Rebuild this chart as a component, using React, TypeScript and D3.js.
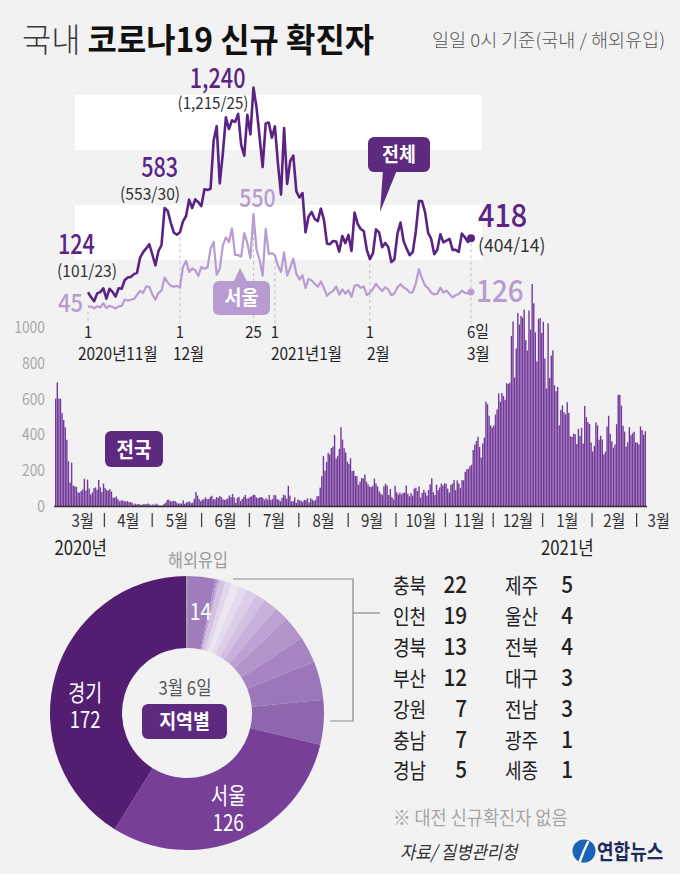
import React from "react";
import * as d3 from "d3";

const W = 680;
const H = 874;
const FONT = "'Noto Sans CJK KR', 'Noto Sans', sans-serif";

// ---- National daily new cases (0시 기준), Mar 1 2020 .. Mar 6 2021 ----
const nat2020Mar = [600, 690, 600, 600, 520, 480, 440, 370, 250, 131, 242, 114, 110, 107, 76, 74, 84, 93, 152, 87, 147, 98, 64, 76, 100, 104, 91, 146, 105, 78, 125];
const nat2020Apr = [101, 89, 86, 94, 81, 47, 47, 53, 39, 27, 30, 32, 25, 27, 27, 22, 22, 18, 8, 13, 9, 11, 8, 6, 10, 10, 10, 14, 9, 4];
const nat2020May = [9, 6, 13, 8, 3, 2, 4, 12, 18, 34, 35, 27, 26, 29, 27, 19, 13, 15, 13, 32, 12, 20, 23, 25, 16, 19, 40, 79, 58, 39, 27];
const nat2020Jun = [35, 38, 49, 39, 39, 51, 57, 38, 38, 50, 45, 56, 49, 37, 34, 37, 43, 59, 49, 67, 48, 17, 46, 51, 28, 39, 51, 62, 42, 43];
const nat2020Jul = [51, 54, 63, 61, 48, 44, 48, 50, 45, 35, 44, 35, 62, 33, 39, 61, 60, 39, 34, 26, 45, 63, 59, 41, 113, 58, 25, 28, 48, 18, 36];
const nat2020Aug = [31, 30, 23, 34, 33, 43, 20, 43, 36, 28, 34, 54, 56, 103, 166, 279, 197, 246, 297, 288, 324, 332, 397, 266, 280, 320, 441, 371, 323, 299, 248];
const nat2020Sep = [235, 267, 195, 198, 168, 167, 119, 136, 156, 155, 176, 136, 121, 109, 106, 113, 153, 126, 110, 82, 70, 61, 110, 125, 114, 61, 95, 50, 38, 113];
const nat2020Oct = [77, 63, 75, 64, 73, 75, 114, 69, 54, 72, 58, 97, 102, 84, 110, 47, 73, 91, 76, 58, 89, 121, 155, 77, 61, 119, 88, 103, 125, 114, 127];
const nat2020Nov = [124, 97, 75, 118, 125, 145, 89, 143, 126, 100, 146, 143, 191, 205, 208, 223, 230, 313, 343, 363, 386, 330, 271, 349, 382, 583, 569, 504, 450, 438];
const nat2020Dec = [451, 511, 540, 629, 583, 631, 615, 594, 686, 682, 689, 950, 1030, 718, 880, 1078, 1014, 1062, 1053, 1097, 926, 869, 1092, 985, 1240, 1132, 970, 807, 1045, 1050, 967];
const nat2021Jan = [1029, 824, 657, 1020, 715, 840, 869, 674, 641, 665, 451, 537, 562, 524, 512, 580, 520, 389, 386, 404, 401, 346, 431, 392, 437, 349, 559, 497, 469, 458, 355];
const nat2021Feb = [305, 336, 467, 451, 370, 393, 371, 289, 303, 444, 504, 403, 362, 326, 344, 457, 621, 621, 561, 448, 416, 332, 356, 440, 396, 406, 415, 355];
const nat2021Mar = [355, 344, 444, 424, 398, 418];

// ---- Seoul daily new cases, Nov 1 2020 .. Mar 6 2021 ----
const seoul2020Nov = [45, 46, 36, 48, 41, 63, 38, 51, 44, 35, 47, 50, 85, 79, 83, 88, 109, 132, 121, 156, 154, 112, 83, 121, 133, 204, 178, 159, 155, 159];
const seoul2020Dec = [150, 262, 295, 235, 254, 244, 213, 262, 252, 259, 362, 399, 219, 251, 378, 423, 398, 473, 328, 327, 318, 447, 393, 310, 550, 357, 300, 214, 470, 333, 337];
const seoul2021Jan = [325, 268, 236, 341, 215, 257, 308, 225, 193, 217, 147, 197, 188, 171, 154, 183, 147, 105, 121, 132, 156, 111, 140, 116, 135, 98, 159, 165, 148, 156, 108];
const seoul2021Feb = [122, 142, 170, 149, 131, 152, 139, 108, 117, 152, 168, 150, 142, 122, 125, 173, 250, 200, 161, 146, 122, 112, 116, 149, 122, 133, 114, 96];
const seoul2021Mar = [109, 114, 133, 121, 118, 126];

// ---- Annotations (total, domestic / overseas) ----
const callouts = [
  { date: "2020-11-01", total: "124", split: "(101/23)" },
  { date: "2020-11-26", total: "583", split: "(553/30)" },
  { date: "2020-12-25", total: "1,240", split: "(1,215/25)" },
  { date: "2021-03-06", total: "418", split: "(404/14)" },
];

// ---- Regional breakdown, Mar 6 ----
const overseasCount = 14;
const regionNames = ["충북", "인천", "경북", "부산", "강원", "충남", "경남", "제주", "울산", "전북", "대구", "전남", "광주", "세종"];
const regionValues = [22, 19, 13, 12, 7, 7, 5, 5, 4, 4, 3, 3, 1, 1];
const seoulCount = 126;
const gyeonggiCount = 172;

const yTicksBar = [0, 200, 400, 600, 800, 1000];

const DARK = "#5a2384";
const LIGHT = "#b89cd1";
const BAR = "#733a9b";
const BUBBLE = "#5d2a80";

const pieColors = [
  "#9f7dbd", "#b091c9", "#c2a9d6", "#d3c2e2", "#e2d6ec", "#ece5f2", "#e5dbee", "#dccde8",
  "#d2bfe2", "#c7b0da", "#bca2d2", "#b293ca", "#a785c2", "#9b76b8", "#8e66ad", "#773f98", "#531e72",
];

function T(props: any) {
  const { x, y, s = 0.88, anchor = "start", size = 15, fill = "#222", weight = 400, italic = false, children } = props;
  return (
    <text
      transform={`translate(${x},${y}) scale(${s},1)`}
      textAnchor={anchor}
      fontSize={size}
      fill={fill}
      fontWeight={weight}
      fontStyle={italic ? "italic" : "normal"}
      fontFamily={FONT}
    >
      {children}
    </text>
  );
}

const parseD = d3.timeParse("%Y-%m-%d");

export default function App() {
  const national = [
    ...nat2020Mar, ...nat2020Apr, ...nat2020May, ...nat2020Jun, ...nat2020Jul, ...nat2020Aug,
    ...nat2020Sep, ...nat2020Oct, ...nat2020Nov, ...nat2020Dec, ...nat2021Jan, ...nat2021Feb, ...nat2021Mar,
  ];
  const seoul = [...seoul2020Nov, ...seoul2020Dec, ...seoul2021Jan, ...seoul2021Feb, ...seoul2021Mar];
  const barStart = new Date(2020, 2, 1);
  const dates = national.map((_, i) => d3.timeDay.offset(barStart, i));

  // ---------- top line chart ----------
  const topStart = new Date(2020, 10, 1);
  const topEnd = new Date(2021, 2, 6);
  const startIdx = d3.timeDay.count(barStart, topStart);
  const totalPts: [Date, number][] = national.slice(startIdx).map((v, i) => [d3.timeDay.offset(topStart, i), v]);
  const seoulPts: [Date, number][] = seoul.map((v, i) => [d3.timeDay.offset(topStart, i), v]);
  const xTop = d3.scaleTime().domain([topStart, topEnd]).range([88, 471]);
  const yTop = d3.scaleLinear().domain([0, 1200]).range([315, 95]);
  const line = d3.line<[Date, number]>().x((d) => xTop(d[0])).y((d) => yTop(d[1]));
  const valAt = (arr: [Date, number][], d: Date) => arr[d3.timeDay.count(topStart, d)][1];

  const topTicks = [
    { date: new Date(2020, 10, 1), top: "1", bottom: "2020년11월", anchor: "seoul", bdx: -10 },
    { date: new Date(2020, 11, 1), top: "1", bottom: "12월", anchor: "total", bdx: -7 },
    { date: new Date(2020, 11, 25), top: "25", bottom: "", anchor: "seoul", bdx: 0 },
    { date: new Date(2021, 0, 1), top: "1", bottom: "2021년1월", anchor: "seoul", bdx: -4 },
    { date: new Date(2021, 1, 1), top: "1", bottom: "2월", anchor: "total", bdx: -3 },
    { date: new Date(2021, 2, 6), top: "6일", bottom: "3월", anchor: "total", bdx: -4 },
  ];

  // ---------- bar chart ----------
  const n = national.length;
  const xBar = d3.scaleBand<number>().domain(d3.range(n)).range([55, 646]).paddingInner(0.12);
  const yBar = d3.scaleLinear().domain([0, 1000]).range([506, 327]);
  const step = xBar.step();
  const monthStarts = d3.timeMonth.range(new Date(2020, 3, 1), new Date(2021, 2, 2));
  const sepX = monthStarts.map((d) => 55 + d3.timeDay.count(barStart, d) * step);
  const monthLabels = [barStart, ...monthStarts].map((d, i) => {
    let cx;
    if (i === 0) cx = (55 + sepX[0]) / 2 + 3;
    else if (i === monthStarts.length) cx = sepX[i - 1] + 22;
    else cx = (sepX[i - 1] + sepX[i]) / 2;
    return { label: `${d.getMonth() + 1}월`, cx, date: d };
  });

  // ---------- donut ----------
  const cx = 187;
  const cy = 713;
  const rOuter = 137;
  const rInner = 65;
  const pieData = [
    { name: "해외유입", value: overseasCount },
    ...regionNames.map((nm, i) => ({ name: nm, value: regionValues[i] })).reverse(),
    { name: "서울", value: seoulCount },
    { name: "경기", value: gyeonggiCount },
  ];
  const arcs = d3.pie<any>().sort(null).value((d) => d.value)(pieData);
  const arcGen = d3.arc<any>().innerRadius(rInner).outerRadius(rOuter);
  const labelArc = d3.arc<any>().innerRadius(101).outerRadius(101);
  const arcByName = (nm: string) => arcs.find((a) => a.data.name === nm)!;
  const c14 = labelArc.centroid(arcByName("해외유입"));
  const cSeoul = d3.arc<any>().innerRadius(108).outerRadius(108).centroid(arcByName("서울"));
  const cGg = d3.arc<any>().innerRadius(108).outerRadius(108).centroid(arcByName("경기"));

  const rowY = (i: number) => 593 + i * 30.9;

  const NUM_W = 500;

  return (
    <svg
      width={W}
      height={H}
      viewBox={`0 0 ${W} ${H}`}
      style={{ position: "fixed", left: 0, top: 0 }}
      fontFamily={FONT}
    >
      <rect x={0} y={0} width={W} height={H} fill="#f2f2f2" />

      {/* Title */}
      <text x={22} y={52} fontSize={33} fontFamily={FONT} textLength={352} lengthAdjust="spacingAndGlyphs">
        <tspan fill="#3a3a3a" fontWeight={300}>국내 </tspan>
        <tspan fill="#111" fontWeight={700}>코로나19 신규 확진자</tspan>
      </text>
      <text x={432} y={47} fontSize={18} fill="#555" fontWeight={300} fontFamily={FONT} textLength={233} lengthAdjust="spacingAndGlyphs">
        일일 0시 기준(국내 / 해외유입)
      </text>

      {/* ---------- top line chart ---------- */}
      {[[900, 1200], [300, 600]].map(([a, b]) => (
        <rect key={a} x={75} width={407} y={yTop(b)} height={yTop(a) - yTop(b)} fill="#ffffff" />
      ))}

      {topTicks.map((t) => {
        const x = xTop(t.date);
        const v = t.anchor === "seoul" ? valAt(seoulPts, t.date) : valAt(totalPts, t.date);
        return (
          <g key={t.date.toISOString()}>
            <line x1={x} x2={x} y1={yTop(v) + 5} y2={323} stroke="#bdbdbd" strokeWidth={1} strokeDasharray="3,3" />
            <T x={t.top === "6일" ? x - 4 : x} y={338} anchor={t.top === "6일" ? "start" : "middle"} size={16.5} fill="#222" s={0.9}>
              {t.top}
            </T>
            {t.bottom && (
              <T x={x + t.bdx} y={360} size={17.5} fill="#222" s={0.88}>
                {t.bottom}
              </T>
            )}
          </g>
        );
      })}

      <path d={line(seoulPts)!} fill="none" stroke={LIGHT} strokeWidth={2.2} strokeLinejoin="round" />
      <path d={line(totalPts)!} fill="none" stroke={DARK} strokeWidth={2.6} strokeLinejoin="round" />
      <circle cx={xTop(topEnd)} cy={yTop(seoulPts[seoulPts.length - 1][1])} r={3.5} fill={LIGHT} />
      <circle cx={xTop(topEnd)} cy={yTop(totalPts[totalPts.length - 1][1])} r={4} fill={DARK} />

      {/* callouts */}
      {(() => {
        const [c0, c1, c2, c3] = callouts.map((c) => ({ ...c, d: parseD(c.date)! }));
        const p0 = [xTop(c0.d), yTop(valAt(totalPts, c0.d))];
        const p1 = [xTop(c1.d), yTop(valAt(totalPts, c1.d))];
        const p2 = [xTop(c2.d), yTop(valAt(totalPts, c2.d))];
        const p3 = [xTop(c3.d), yTop(valAt(totalPts, c3.d))];
        return (
          <g>
            <T x={p0[0] - 30} y={p0[1] - 38} size={27} weight={NUM_W} fill={DARK} s={0.8}>{c0.total}</T>
            <T x={p0[0] - 31} y={p0[1] - 15} size={17} fill="#333" s={0.92}>{c0.split}</T>
            <T x={p1[0] + 13.5} y={p1[1] - 31} anchor="end" size={27} weight={NUM_W} fill={DARK} s={0.8}>{c1.total}</T>
            <T x={p1[0] + 15.5} y={p1[1] - 8} anchor="end" size={17} fill="#333" s={0.92}>{c1.split}</T>
            <T x={p2[0] - 8} y={p2[1]} anchor="end" size={27} weight={NUM_W} fill={DARK} s={0.8}>{c2.total}</T>
            <T x={p2[0] - 5} y={p2[1] + 21} anchor="end" size={16.5} fill="#333" s={0.92}>{c2.split}</T>
            <T x={p3[0] + 7} y={p3[1] - 11} size={32} weight={NUM_W} fill={DARK} s={0.9}>{c3.total}</T>
            <T x={p3[0] + 7} y={p3[1] + 14} size={18.5} fill="#333" s={0.95}>{c3.split}</T>
          </g>
        );
      })()}
      {/* Seoul value labels */}
      <T x={xTop(topStart) - 5} y={yTop(seoulPts[0][1]) + 5} anchor="end" size={25} weight={NUM_W} fill={LIGHT} s={0.88}>
        {String(seoulPts[0][1])}
      </T>
      <T x={xTop(new Date(2020, 11, 25)) + 4} y={yTop(550) - 7} anchor="middle" size={25} weight={NUM_W} fill={LIGHT} s={0.85}>
        {String(valAt(seoulPts, new Date(2020, 11, 25)))}
      </T>
      <T x={xTop(topEnd) + 5} y={yTop(seoulPts[seoulPts.length - 1][1]) + 10} size={31} weight={NUM_W} fill={LIGHT} s={0.9}>
        {String(seoulPts[seoulPts.length - 1][1])}
      </T>

      {/* bubbles */}
      <g>
        <rect x={368} y={137} width={62} height={35} rx={6} fill={BUBBLE} />
        <path d="M383,170 L397,170 L380,212 Z" fill={BUBBLE} />
        <T x={399} y={162} anchor="middle" size={20} weight={700} fill="#fff" s={0.92}>전체</T>
      </g>
      <g>
        <rect x={213} y={281} width={57} height={34} rx={6} fill={LIGHT} />
        <path d="M233,283 L248,283 L240,268 Z" fill={LIGHT} />
        <T x={241.5} y={305} anchor="middle" size={20} weight={700} fill="#fff" s={0.92}>서울</T>
      </g>

      {/* ---------- bar chart ---------- */}
      {yTicksBar.map((t) => (
        <T key={t} x={45} y={yBar(t) + 6} anchor="end" size={16.5} fill="#a8a8a8" s={0.84}>
          {String(t)}
        </T>
      ))}
      {national.map((v, i) => (
        <rect key={i} x={xBar(i)} y={yBar(v)} width={xBar.bandwidth()} height={506 - yBar(v)} fill={BAR} />
      ))}
      <line x1={54} x2={647} y1={506.5} y2={506.5} stroke="#333" strokeWidth={1.5} />
      {sepX.map((x, i) => (
        <line key={i} x1={x} x2={x} y1={513} y2={527} stroke="#444" strokeWidth={1.3} />
      ))}
      {monthLabels.map((m, i) => (
        <T key={i} x={m.cx} y={527} anchor="middle" size={17.5} fill="#333" s={0.86}>
          {m.label}
        </T>
      ))}
      <T x={monthLabels[0].cx - 2} y={555} anchor="middle" size={19.5} fill="#222" s={0.86}>
        {`${dates[0].getFullYear()}년`}
      </T>
      <T x={monthLabels[10].cx} y={555} anchor="middle" size={19.5} fill="#222" s={0.86}>
        {`${monthLabels[10].date.getFullYear()}년`}
      </T>
      <g>
        <rect x={105} y={431} width={58} height={36} rx={6} fill={BUBBLE} />
        <T x={134} y={457} anchor="middle" size={21} weight={700} fill="#fff" s={0.9}>전국</T>
      </g>

      {/* ---------- donut ---------- */}
      <g transform={`translate(${cx},${cy})`}>
        {arcs.map((a, i) => (
          <path key={i} d={arcGen(a)!} fill={pieColors[i]} />
        ))}
        <line x1={0} x2={0} y1={-rInner} y2={-rOuter} stroke="#a0a0a0" strokeWidth={2} />
        <T x={c14[0] + 3} y={c14[1] + 7} anchor="middle" size={23} fill="#fff" s={0.85}>
          {String(overseasCount)}
        </T>
        <T x={cSeoul[0]} y={cSeoul[1] - 9} anchor="middle" size={23} fill="#fff" s={0.82}>
          <tspan x={0} dy={0}>서울</tspan>
          <tspan x={0} dy={27}>{String(seoulCount)}</tspan>
        </T>
        <T x={cGg[0] + 2} y={cGg[1] + 18} anchor="middle" size={23} fill="#fff" s={0.8}>
          <tspan x={0} dy={0}>경기</tspan>
          <tspan x={0} dy={27}>{String(gyeonggiCount)}</tspan>
        </T>
        <T x={-2} y={-18} anchor="middle" size={19} fill="#555" s={0.88}>3월 6일</T>
        <rect x={-45} y={-9} width={85} height={35} rx={6} fill={BUBBLE} />
        <T x={-2.5} y={16} anchor="middle" size={20} weight={700} fill="#fff" s={0.92}>지역별</T>
      </g>
      <T x={198} y={567} anchor="middle" size={18.5} fill="#9a9a9a" s={0.88}>해외유입</T>

      {/* bracket */}
      <path d="M233,579 H353 V721 H330" fill="none" stroke="#8a8a8a" strokeWidth={1.2} />
      <line x1={353} x2={380} y1={613} y2={613} stroke="#8a8a8a" strokeWidth={1.2} />

      {/* table */}
      {regionNames.map((nm, i) => {
        const col = i < 7 ? 0 : 1;
        const row = i % 7;
        const nx = col === 0 ? 393 : 505;
        const vx = col === 0 ? 467 : 573;
        return (
          <g key={nm}>
            <T x={nx} y={rowY(row)} size={21} fill="#222" s={0.86}>{nm}</T>
            <T x={vx} y={rowY(row)} anchor="end" size={23} weight={500} fill="#222" s={0.9}>{String(regionValues[i])}</T>
          </g>
        );
      })}
      <T x={393} y={825} size={19.5} fill="#a5a5a5" s={0.9}>※ 대전 신규확진자 없음</T>
      <T x={400} y={859} size={18.5} fill="#333" italic s={0.9}>자료/ 질병관리청</T>

      {/* logo */}
      <g>
        <circle cx={584} cy={851} r={11.5} fill="#1a63b8" />
        <path d="M588,842 Q583,852 580,861" fill="none" stroke="#fff" strokeWidth={2.4} strokeLinecap="round" />
        <T x={597} y={859} size={21} weight={700} fill="#1d2b5c" s={0.86}>연합뉴스</T>
      </g>
    </svg>
  );
}
